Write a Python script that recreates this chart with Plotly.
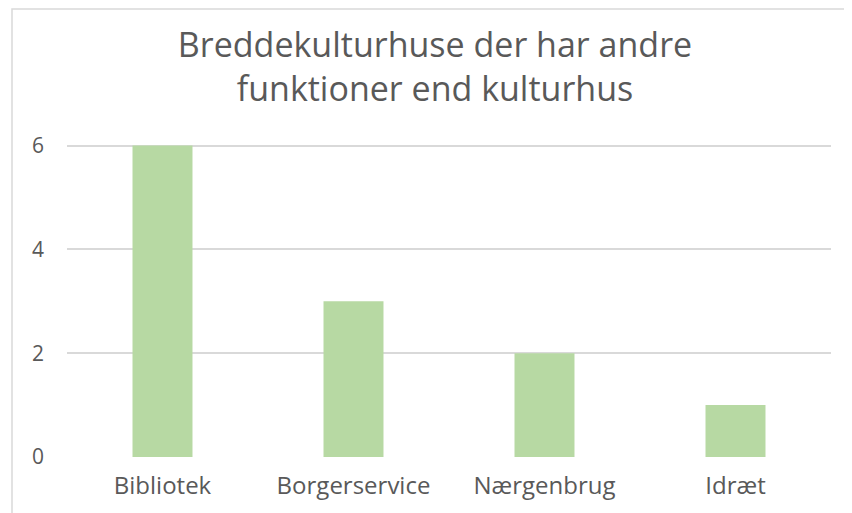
import plotly.graph_objects as go

categories = ["Bibliotek", "Borgerservice", "Nærgenbrug", "Idræt"]
values = [6, 3, 2, 1]
y_ticks = [0, 2, 4, 6]
title_text = "Breddekulturhuse der har andre<br>funktioner end kulturhus"

# page body has an 8px margin: figure starts at page (8, 8)
OFF = 8
Y_TOP = 6.05
unit = (457 - 146) / 6.0
W, H = 852 - OFF, 513 - OFF
L, R, B = 67 - OFF, 852 - 831, 513 - 457
T = 146 - OFF - (Y_TOP - 6) * unit
pw, ph = W - L - R, H - T - B


def px_x(x):
    return (x - OFF - L) / pw


def px_y(y):
    return (H - B - (y - OFF)) / ph


fig = go.Figure(
    go.Bar(
        x=categories,
        y=values,
        marker=dict(color="#b7d9a3", line=dict(width=0)),
        width=0.314,
    )
)

fig.update_layout(
    width=W,
    height=H,
    margin=dict(l=L, r=R, t=T, b=B, autoexpand=False),
    paper_bgcolor="white",
    plot_bgcolor="white",
    showlegend=False,
    font=dict(family="Open Sans", color="#595959", size=21),
    title=dict(
        text=title_text,
        font=dict(family="Open Sans", size=34, color="#595959"),
        x=px_x(435),
        xref="paper",
        xanchor="center",
        y=1 - 49 / H,
        yref="container",
        yanchor="top",
    ),
    xaxis=dict(
        showgrid=False,
        showline=False,
        zeroline=False,
        ticks="",
        ticklabelstandoff=12,
        tickfont=dict(family="Open Sans", size=24, color="#595959"),
    ),
    yaxis=dict(
        range=[0, Y_TOP],
        tickvals=y_ticks,
        showgrid=True,
        gridcolor="#d9d9d9",
        gridwidth=1.5,
        zeroline=False,
        showline=False,
        ticks="",
        ticklabelstandoff=22,
        tickfont=dict(family="Open Sans", size=21, color="#595959"),
    ),
    shapes=[
        dict(
            type="rect",
            xref="paper",
            yref="paper",
            x0=px_x(12),
            x1=px_x(900),
            y0=px_y(600),
            y1=px_y(9.5),
            line=dict(color="#d9d9d9", width=1.5),
            fillcolor="rgba(0,0,0,0)",
            layer="below",
        )
    ],
)

fig.write_html("out.html")
